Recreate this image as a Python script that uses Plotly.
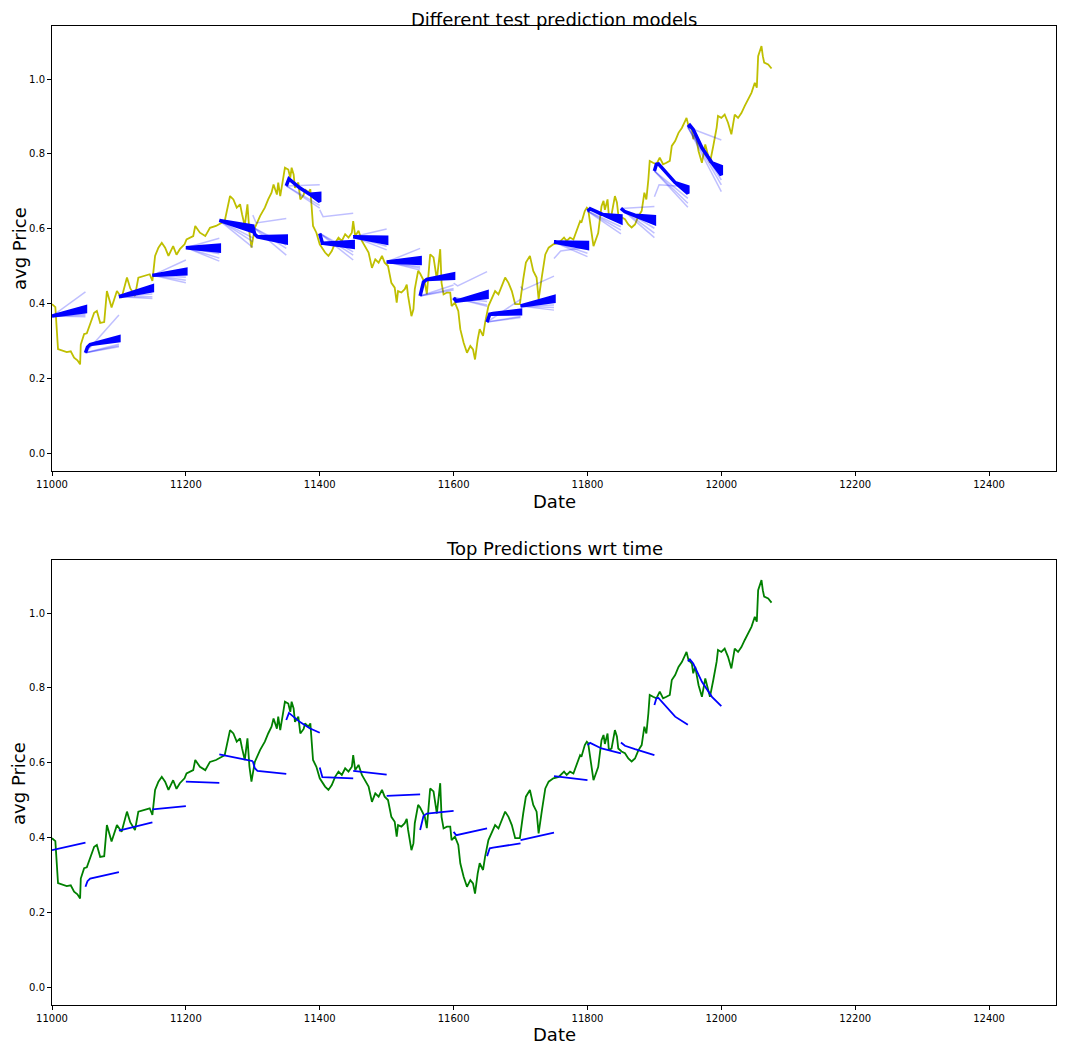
import plotly.graph_objects as go

# ---------------- data ----------------
price_dates = [11000, 11005, 11009, 11015, 11022, 11028, 11033, 11038, 11042, 11043, 11048, 11052, 11058, 11063,
               11067, 11072, 11078, 11082, 11089, 11097, 11104, 11112, 11117, 11124, 11129, 11137, 11146, 11150,
               11154, 11159, 11164, 11169, 11174, 11181, 11186, 11191, 11198, 11201, 11211, 11214, 11221, 11229,
               11236, 11245, 11258, 11266, 11271, 11276, 11281, 11284, 11288, 11292, 11295, 11298, 11303, 11311,
               11318, 11323, 11328, 11331, 11336, 11338, 11341, 11346, 11348, 11353, 11356, 11358, 11361, 11363,
               11368, 11371, 11376, 11378, 11383, 11386, 11388, 11390, 11395, 11400, 11408, 11413, 11418, 11423,
               11428, 11433, 11438, 11443, 11448, 11450, 11453, 11458, 11463, 11468, 11473, 11478, 11483, 11488,
               11493, 11497, 11502, 11507, 11512, 11515, 11517, 11522, 11527, 11530, 11532, 11537, 11540, 11542,
               11547, 11550, 11557, 11560, 11565, 11570, 11575, 11580, 11582, 11585, 11590, 11595, 11597, 11602,
               11607, 11610, 11615, 11620, 11625, 11629, 11632, 11636, 11639, 11644, 11647, 11652, 11657, 11662,
               11667, 11672, 11677, 11682, 11687, 11692, 11699, 11704, 11708, 11714, 11719, 11724, 11727, 11732,
               11737, 11742, 11749, 11757, 11765, 11769, 11774, 11779, 11784, 11789, 11791, 11796, 11799, 11801,
               11809, 11816, 11821, 11824, 11826, 11830, 11832, 11836, 11841, 11844, 11846, 11851, 11856, 11861,
               11866, 11871, 11876, 11881, 11885, 11888, 11891, 11893, 11898, 11903, 11908, 11913, 11918, 11923,
               11926, 11931, 11936, 11941, 11946, 11948, 11951, 11956, 11958, 11961, 11966, 11971, 11976, 11980,
               11983, 11988, 11993, 11995, 12000, 12005, 12010, 12015, 12018, 12020, 12025, 12030, 12035, 12040,
               12045, 12050, 12053, 12055, 12060, 12062, 12064, 12070, 12075]
price_vals = [0.398, 0.39, 0.278, 0.275, 0.27, 0.272, 0.255, 0.248, 0.237, 0.29, 0.318, 0.32, 0.35, 0.375,
              0.38, 0.348, 0.35, 0.433, 0.389, 0.433, 0.415, 0.469, 0.44, 0.42, 0.469, 0.473, 0.478, 0.46,
              0.527, 0.549, 0.562, 0.549, 0.527, 0.553, 0.53, 0.545, 0.558, 0.571, 0.58, 0.607, 0.589, 0.58,
              0.602, 0.607, 0.62, 0.687, 0.678, 0.656, 0.665, 0.638, 0.607, 0.665, 0.589, 0.549, 0.602, 0.634,
              0.656, 0.678, 0.696, 0.718, 0.691, 0.723, 0.687, 0.741, 0.763, 0.758, 0.736, 0.763, 0.745, 0.709,
              0.723, 0.678, 0.69, 0.705, 0.696, 0.705, 0.647, 0.607, 0.589, 0.558, 0.536, 0.527, 0.54, 0.562,
              0.576, 0.567, 0.585, 0.576, 0.589, 0.62, 0.58, 0.594, 0.567, 0.553, 0.536, 0.495, 0.518, 0.509,
              0.527, 0.509, 0.5, 0.455, 0.442, 0.402, 0.433, 0.429, 0.438, 0.45, 0.42, 0.366, 0.384, 0.438,
              0.487, 0.48, 0.455, 0.425, 0.531, 0.523, 0.464, 0.545, 0.455, 0.424, 0.429, 0.429, 0.393, 0.402,
              0.38, 0.331, 0.295, 0.268, 0.286, 0.277, 0.25, 0.304, 0.331, 0.313, 0.348, 0.393, 0.415, 0.433,
              0.424, 0.447, 0.469, 0.455, 0.433, 0.398, 0.398, 0.464, 0.509, 0.527, 0.487, 0.469, 0.411, 0.473,
              0.531, 0.549, 0.558, 0.562, 0.576, 0.567, 0.576, 0.571, 0.594, 0.62, 0.616, 0.647, 0.656, 0.652,
              0.553, 0.588, 0.66, 0.674, 0.65, 0.678, 0.633, 0.638, 0.687, 0.67, 0.638, 0.63, 0.625, 0.611,
              0.603, 0.611, 0.633, 0.647, 0.696, 0.678, 0.732, 0.781, 0.776, 0.772, 0.79, 0.772, 0.776, 0.781,
              0.821, 0.834, 0.856, 0.869, 0.888, 0.896, 0.874, 0.865, 0.839, 0.856, 0.807, 0.776, 0.825, 0.8,
              0.776, 0.821, 0.87, 0.901, 0.896, 0.905, 0.883, 0.852, 0.892, 0.905, 0.896, 0.909, 0.928, 0.945,
              0.963, 0.99, 0.977, 1.061, 1.088, 1.061, 1.044, 1.039, 1.028]

seg_start = [11000, 11050, 11100, 11150, 11200, 11250, 11300, 11350, 11400, 11450,
             11500, 11550, 11600, 11650, 11700, 11750, 11800, 11850, 11900, 11950]
best_off = [[0, 50], [0, 3, 7, 50], [0, 50], [0, 50], [0, 50], [0, 50], [0, 3, 7, 50],
            [0, 4, 20, 35, 50], [0, 4, 50], [0, 50], [0, 50], [0, 5, 10, 50], [0, 4, 50],
            [0, 4, 9, 50], [0, 50], [0, 50], [0, 4, 21, 50], [0, 6, 21, 50],
            [0, 3, 6, 16, 31, 50], [0, 3, 8, 21, 36, 50]]
best_val = [[0.366, 0.386], [0.268, 0.283, 0.29, 0.307], [0.418, 0.44], [0.475, 0.484],
            [0.549, 0.546], [0.622, 0.604], [0.604, 0.585, 0.578, 0.57],
            [0.714, 0.733, 0.709, 0.692, 0.68], [0.587, 0.561, 0.558], [0.578, 0.568],
            [0.511, 0.515], [0.42, 0.457, 0.464, 0.471], [0.415, 0.406, 0.424],
            [0.35, 0.371, 0.373, 0.384], [0.393, 0.413], [0.564, 0.553],
            [0.647, 0.653, 0.638, 0.625], [0.654, 0.645, 0.636, 0.62],
            [0.754, 0.772, 0.773, 0.754, 0.723, 0.701], [0.871, 0.876, 0.865, 0.816, 0.776, 0.751]]
band_hi = [0.391, 0.311, 0.447, 0.491, 0.556, 0.607, 0.580, 0.694, 0.565, 0.577,
           0.522, 0.479, 0.431, 0.382, 0.418, 0.563, 0.634, 0.632, 0.712, 0.766]
band_lo = [0.378, 0.300, 0.434, 0.479, 0.540, 0.592, 0.562, 0.672, 0.550, 0.561,
           0.507, 0.467, 0.416, 0.372, 0.405, 0.547, 0.616, 0.614, 0.694, 0.743]
faded_end = [[0.431, 0.372, 0.368, 0.364], [0.369, 0.291, 0.287, 0.284], [0.425, 0.418, 0.413],
             [0.516, 0.470, 0.462, 0.455], [0.574, 0.533, 0.521, 0.513], [0.575, 0.565, 0.55],
             [0.556, 0.547, 0.529], [0.717, 0.662, 0.655], [0.538, 0.529, 0.516],
             [0.599, 0.553, 0.543], [0.547, 0.498, 0.494, 0.489], [0.449, 0.44, 0.436],
             [0.405, 0.396, 0.392], [0.411, 0.365, 0.362], [0.396, 0.389, 0.382], [0.534, 0.525],
             [0.605, 0.596, 0.586], [0.659, 0.601, 0.588, 0.576], [0.681, 0.668, 0.657],
             [0.837, 0.73, 0.717, 0.699]]
special_seg = [6, 8, 12, 14, 15, 18]
special_off = [[0, 5, 50], [0, 5, 50], [0, 6, 50], [0, 4, 50], [0, 10, 50], [0, 7, 50]]
special_val = [[0.636, 0.615, 0.627], [0.65, 0.632, 0.641], [0.454, 0.447, 0.485],
               [0.445, 0.436, 0.473], [0.52, 0.54, 0.55], [0.685, 0.717, 0.712]]

x_ticks = [11000, 11200, 11400, 11600, 11800, 12000, 12200, 12400]
x_tick_text = ["11000", "11200", "11400", "11600", "11800", "12000", "12200", "12400"]
y_ticks = [0.0, 0.2, 0.4, 0.6, 0.8, 1.0]
y_tick_text = ["0.0", "0.2", "0.4", "0.6", "0.8", "1.0"]

# ---------------- build traces ----------------
band_x, band_y = [], []
fade_x, fade_y = [], []
best_x, best_y = [], []
for i, s in enumerate(seg_start):
    xs = [s + o for o in best_off[i]]
    up = best_val[i][:-1] + [band_hi[i]]
    lo = best_val[i][:-1] + [band_lo[i]]
    band_x += xs + xs[::-1] + [None]
    band_y += up + lo[::-1] + [None]
    best_x += xs + [None]
    best_y += best_val[i] + [None]
    for e in faded_end[i]:
        fade_x += [s, s + 50, None]
        fade_y += [best_val[i][0], e, None]
for k, i in enumerate(special_seg):
    fade_x += [seg_start[i] + o for o in special_off[k]] + [None]
    fade_y += special_val[k] + [None]

fig = go.Figure()
fig.add_trace(go.Scatter(x=price_dates, y=price_vals, mode="lines",
                         line=dict(color="#bfbf00", width=1.8), xaxis="x", yaxis="y", showlegend=False))
fig.add_trace(go.Scatter(x=fade_x, y=fade_y, mode="lines",
                         line=dict(color="rgba(0,0,255,0.25)", width=1.5), xaxis="x", yaxis="y",
                         showlegend=False, connectgaps=False))
fig.add_trace(go.Scatter(x=band_x, y=band_y, mode="lines", fill="toself", fillcolor="#0000ff",
                         line=dict(color="#0000ff", width=3.5), xaxis="x", yaxis="y", showlegend=False))

fig.add_trace(go.Scatter(x=price_dates, y=price_vals, mode="lines",
                         line=dict(color="#008000", width=1.8), xaxis="x2", yaxis="y2", showlegend=False))
fig.add_trace(go.Scatter(x=best_x, y=best_y, mode="lines",
                         line=dict(color="#0000ff", width=1.8), xaxis="x2", yaxis="y2",
                         showlegend=False, connectgaps=False))

axis_common = dict(showgrid=False, zeroline=False, showline=True, mirror=True, linecolor="black",
                   linewidth=1, ticks="outside", ticklen=4, tickcolor="black", automargin=False,
                   tickfont=dict(family="DejaVu Sans", size=10, color="black"))
xr = [11000, 12500]
yr = [-0.048, 1.1417]
xa = dict(range=xr, tickmode="array", tickvals=x_ticks, ticktext=x_tick_text, domain=[0, 1], **axis_common)
ya = dict(range=yr, tickmode="array", tickvals=y_ticks, ticktext=y_tick_text, **axis_common)
# the page body adds an 8px offset, so the figure is 8px smaller and margins are shifted accordingly
fig.update_layout(
    width=1059, height=1043,
    margin=dict(l=44, r=11, t=18, b=46, autoexpand=False),
    paper_bgcolor="white", plot_bgcolor="white",
    xaxis=dict(anchor="y", **xa),
    yaxis=dict(anchor="x", domain=[0.5455, 1], **ya),
    xaxis2=dict(anchor="y2", **xa),
    yaxis2=dict(anchor="x2", domain=[0, 0.4545], **ya),
)

f18 = dict(family="DejaVu Sans", size=18, color="black")
ann = [
    ("Different test prediction models", 0.5, 1.0066, 0),
    ("Top Predictions wrt time", 0.5, 0.4658, 0),
    ("Date", 0.5, 0.5148, 0),
    ("Date", 0.5, -0.0306, 0),
    ("avg Price", -0.0329, 0.7732, -90),
    ("avg Price", -0.0329, 0.2268, -90),
]
for t, x, y, rot in ann:
    fig.add_annotation(text=t, x=x, y=y, xref="paper", yref="paper", showarrow=False, borderpad=0,
                       xanchor="center", yanchor="middle", textangle=rot, font=f18)

fig.write_html("out.html")
